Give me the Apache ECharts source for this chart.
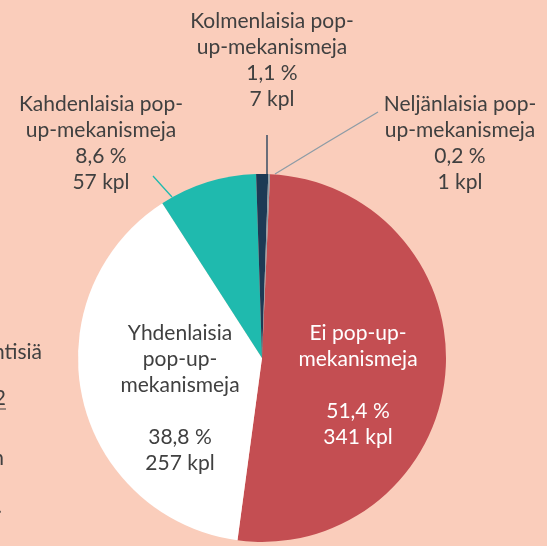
<!DOCTYPE html>
<html><head><meta charset="utf-8">
<script src="https://cdn.jsdelivr.net/npm/echarts@6/dist/echarts.min.js"></script>
<style>html,body{margin:0;padding:0;background:#FACDBB;}#c{width:547px;height:546px;}</style>
</head><body><div id="c"></div>
<script>
const categories = ['Ei pop-up-mekanismeja','Yhdenlaisia pop-up-mekanismeja','Kahdenlaisia pop-up-mekanismeja','Kolmenlaisia pop-up-mekanismeja','Neljänlaisia pop-up-mekanismeja'];
const nameLines = [['Ei pop-up-','mekanismeja'],['Yhdenlaisia','pop-up-','mekanismeja'],['Kahdenlaisia pop-','up-mekanismeja'],['Kolmenlaisia pop-','up-mekanismeja'],['Neljänlaisia pop-','up-mekanismeja']];
const counts = [341, 257, 57, 7, 1];
const percents = ['51,4 %','38,8 %','8,6 %','1,1 %','0,2 %'];
const colors = ['#C44E52','#FFFFFF','#1FBAAE','#1D3A55','#8E9CA6'];
const sideText = ['ntisiä','2','n','.'];

const FONT = 'Lato';
const chart = echarts.init(document.getElementById('c'), null, {renderer:'canvas'});
const cx = 262, cy = 358, R = 184;
const labelPos = [
  {x:358, y:385}, {x:180, y:398}, {x:101, y:143}, {x:272, y:60}, {x:460, y:143}
];
const linePts = [
  null, null,
  [[172,197],[162,186],[153,176]],
  [[267,174],[267,155],[267,135]],
  [[275,174],[326,143],[378,112]]
];
chart.setOption({
  backgroundColor:'#FACDBB',
  animation:false,
  series:[{
    type:'pie',
    center:[cx,cy],
    radius:[0,R],
    startAngle:87.5,
    clockwise:true,
    avoidLabelOverlap:false,
    data: categories.map((n,i)=>({
      name:n, value:counts[i],
      itemStyle:{color:colors[i]},
      label:{
        show:true,
        position: i<2 ? 'inside' : 'outside',
        color: i===0 ? '#FFFFFF' : '#404040',
        formatter: ()=> i<2 ? nameLines[i].join('\n')+'\n\n'+percents[i]+'\n'+counts[i]+' kpl'
                              : nameLines[i].join('\n')+'\n'+percents[i]+'\n'+counts[i]+' kpl'
      },
      labelLine:{show:i>=2, lineStyle:{color: i===2?'#1FBAAE':(i===3?'#1D3A55':'#8E9CA6'), width:1.3}}
    })),
    label:{fontFamily:FONT, fontSize:21, lineHeight:26, align:'center'},
    labelLayout: function(p){
      const i = p.dataIndex;
      const o = {x:labelPos[i].x, y:labelPos[i].y, align:'center', verticalAlign:'middle'};
      if (linePts[i]) o.labelLinePoints = linePts[i];
      return o;
    }
  }],
  graphic:[
    {type:'text', style:{text:sideText[0], x:42, y:352, align:'right', verticalAlign:'middle', font:'21px '+FONT, fill:'#404040'}},
    {type:'text', style:{text:sideText[1], x:6, y:398, align:'right', verticalAlign:'middle', font:'21px '+FONT, fill:'#404040'}},
    {type:'line', shape:{x1:0,y1:409,x2:6,y2:409}, style:{stroke:'#404040', lineWidth:1}},
    {type:'text', style:{text:sideText[2], x:4, y:458, align:'right', verticalAlign:'middle', font:'21px '+FONT, fill:'#404040'}},
    {type:'text', style:{text:sideText[3], x:2, y:506, align:'right', verticalAlign:'middle', font:'21px '+FONT, fill:'#404040'}}
  ]
});
</script></body></html>
